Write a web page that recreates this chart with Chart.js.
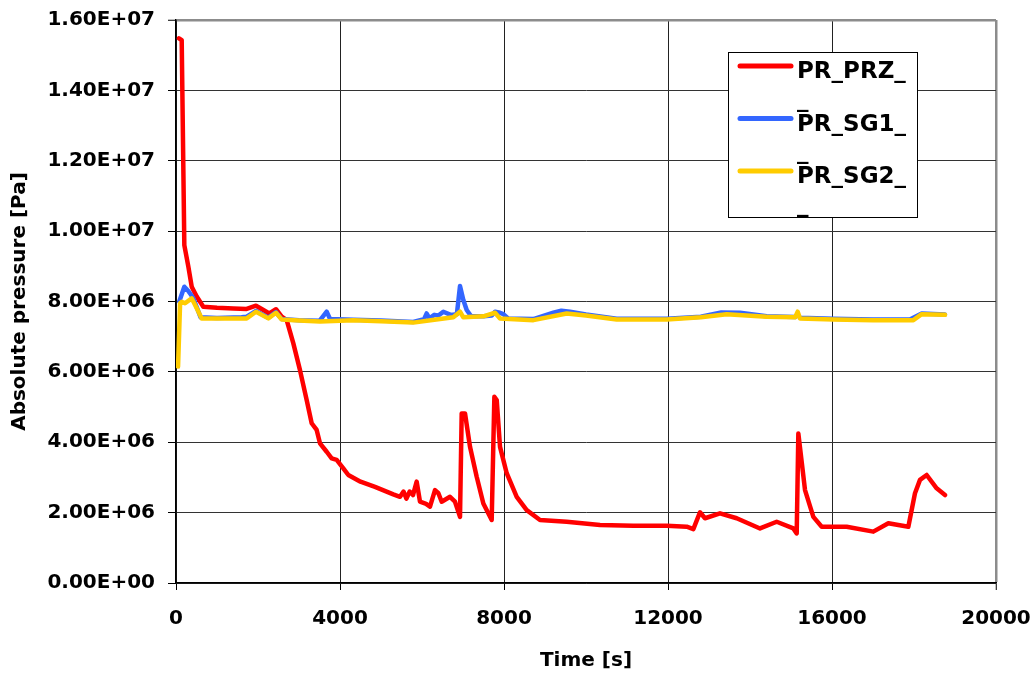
<!DOCTYPE html>
<html><head><meta charset="utf-8">
<script src="https://cdn.jsdelivr.net/npm/chart.js@4.4.1/dist/chart.umd.min.js"></script>
<style>html,body{margin:0;padding:0;background:#fff;overflow:hidden}</style>
</head><body>
<canvas id="c" width="1034" height="677"></canvas>
<script>
const seriesNames = ["PR_PRZ_", "PR_SG1_", "PR_SG2_"];
const xTickValues = [0, 4000, 8000, 12000, 16000, 20000];
const yTickValues = [0, 2e6, 4e6, 6e6, 8e6, 10e6, 12e6, 14e6, 16e6];
const yTickLabels = ["0.00E+00", "2.00E+06", "4.00E+06", "6.00E+06", "8.00E+06", "1.00E+07", "1.20E+07", "1.40E+07", "1.60E+07"];

const przTime = [73, 139, 203, 300, 383, 505, 666, 1000, 1400, 1724, 1951, 2100, 2276, 2439, 2578, 2700, 2862, 3024, 3187, 3309, 3431, 3512, 3675, 3797, 3919, 4081, 4203, 4500, 4854, 5300, 5464, 5550, 5620, 5700, 5780, 5870, 5951, 6100, 6195, 6317, 6400, 6480, 6683, 6805, 6927, 6968, 7049, 7171, 7334, 7496, 7700, 7765, 7822, 7903, 8066, 8310, 8554, 8878, 9529, 10342, 11154, 11967, 12456, 12618, 12780, 12902, 13268, 13675, 14244, 14651, 15057, 15139, 15179, 15342, 15545, 15749, 16358, 17008, 17374, 17862, 18024, 18146, 18309, 18553, 18756];
const przPa = [15.48e6, 15.43e6, 9.6e6, 9.0e6, 8.42e6, 8.14e6, 7.85e6, 7.82e6, 7.80e6, 7.79e6, 7.88e6, 7.78e6, 7.66e6, 7.78e6, 7.57e6, 7.47e6, 6.81e6, 6.05e6, 5.2e6, 4.54e6, 4.35e6, 3.97e6, 3.73e6, 3.54e6, 3.5e6, 3.26e6, 3.07e6, 2.88e6, 2.73e6, 2.52e6, 2.45e6, 2.6e6, 2.4e6, 2.6e6, 2.5e6, 2.88e6, 2.31e6, 2.25e6, 2.17e6, 2.64e6, 2.55e6, 2.31e6, 2.45e6, 2.31e6, 1.88e6, 4.82e6, 4.82e6, 3.87e6, 3.02e6, 2.26e6, 1.79e6, 5.29e6, 5.2e6, 3.87e6, 3.12e6, 2.45e6, 2.07e6, 1.79e6, 1.74e6, 1.65e6, 1.63e6, 1.63e6, 1.6e6, 1.53e6, 2.01e6, 1.84e6, 1.98e6, 1.84e6, 1.55e6, 1.74e6, 1.55e6, 1.41e6, 4.25e6, 2.64e6, 1.88e6, 1.6e6, 1.6e6, 1.46e6, 1.7e6, 1.6e6, 2.55e6, 2.93e6, 3.07e6, 2.69e6, 2.5e6];

const sg1Time = [80, 203, 300, 420, 600, 1000, 1600, 1724, 1951, 2252, 2439, 2578, 3000, 3500, 3600, 3675, 3760, 4325, 5000, 5789, 6050, 6114, 6180, 6300, 6400, 6520, 6700, 6850, 6927, 7008, 7090, 7200, 7500, 7700, 7781, 7900, 7984, 8100, 8716, 9204, 9400, 9610, 10000, 10749, 11967, 12800, 13300, 13756, 14406, 15100, 15163, 15220, 16033, 17000, 17900, 18187, 18756];
const sg1Pa = [8.0e6, 8.42e6, 8.3e6, 8.1e6, 7.55e6, 7.53e6, 7.55e6, 7.57e6, 7.73e6, 7.54e6, 7.70e6, 7.5e6, 7.47e6, 7.45e6, 7.6e6, 7.71e6, 7.5e6, 7.48e6, 7.46e6, 7.42e6, 7.5e6, 7.66e6, 7.52e6, 7.62e6, 7.6e6, 7.71e6, 7.62e6, 7.64e6, 8.44e6, 8.04e6, 7.76e6, 7.58e6, 7.58e6, 7.6e6, 7.71e6, 7.68e6, 7.64e6, 7.52e6, 7.5e6, 7.68e6, 7.74e6, 7.71e6, 7.63e6, 7.51e6, 7.51e6, 7.57e6, 7.69e6, 7.68e6, 7.58e6, 7.56e6, 7.62e6, 7.54e6, 7.51e6, 7.49e6, 7.49e6, 7.66e6, 7.63e6];

const sg2Time = [50, 100, 139, 220, 383, 505, 627, 1000, 1724, 1951, 2252, 2439, 2578, 3000, 3512, 4325, 5000, 5789, 6300, 6764, 6927, 7008, 7500, 7781, 7903, 8716, 9529, 10000, 10749, 11967, 12800, 13431, 14406, 15100, 15163, 15220, 16033, 17000, 17984, 18187, 18756];
const sg2Pa = [6.15e6, 7.95e6, 7.99e6, 7.95e6, 8.09e6, 7.81e6, 7.52e6, 7.52e6, 7.52e6, 7.71e6, 7.52e6, 7.68e6, 7.49e6, 7.46e6, 7.43e6, 7.47e6, 7.44e6, 7.40e6, 7.48e6, 7.55e6, 7.71e6, 7.55e6, 7.58e6, 7.68e6, 7.52e6, 7.47e6, 7.66e6, 7.6e6, 7.49e6, 7.49e6, 7.55e6, 7.64e6, 7.57e6, 7.55e6, 7.71e6, 7.52e6, 7.49e6, 7.47e6, 7.47e6, 7.64e6, 7.62e6];

const seriesColors = ["#ff0000", "#3366ff", "#ffcc00"];

function pts(tArr, pArr) { return tArr.map((t, i) => ({ x: t, y: pArr[i] })); }

const FONT = { family: "'DejaVu Sans'", size: 20, weight: 'bold' };

const legendPlugin = {
  id: 'boxLegend',
  afterDraw(chart) {
    const ctx = chart.ctx;
    ctx.save();
    const bx = 728.5, by = 52.5, bw = 189, bh = 165;
    ctx.fillStyle = '#fff';
    ctx.fillRect(bx, by, bw, bh);
    ctx.strokeStyle = '#000';
    ctx.lineWidth = 1;
    ctx.strokeRect(bx, by, bw, bh);
    ctx.font = "bold 23px 'DejaVu Sans'";
    ctx.textAlign = 'left';
    ctx.textBaseline = 'alphabetic';
    seriesNames.forEach((name, i) => {
      const ly = 66 + i * 52.5;
      ctx.strokeStyle = seriesColors[i];
      ctx.lineWidth = 5;
      ctx.lineCap = 'round';
      ctx.beginPath();
      ctx.moveTo(740, ly);
      ctx.lineTo(791, ly);
      ctx.stroke();
      ctx.fillStyle = '#000';
      ctx.fillText(name, 797, ly + 12);
      ctx.fillText('_', 797, ly + 40.5);
    });
    ctx.restore();
  }
};

const lastGray = '#8c8c8c';

new Chart(document.getElementById('c'), {
  type: 'line',
  data: {
    datasets: [
      { label: seriesNames[0], data: pts(przTime, przPa), borderColor: seriesColors[0], backgroundColor: seriesColors[0], borderWidth: 4.5, pointRadius: 0, order: 3, borderJoinStyle: 'round', borderCapStyle: 'round' },
      { label: seriesNames[1], data: pts(sg1Time, sg1Pa), borderColor: seriesColors[1], backgroundColor: seriesColors[1], borderWidth: 4.5, pointRadius: 0, order: 2, borderJoinStyle: 'round', borderCapStyle: 'round' },
      { label: seriesNames[2], data: pts(sg2Time, sg2Pa), borderColor: seriesColors[2], backgroundColor: seriesColors[2], borderWidth: 4.5, pointRadius: 0, order: 1, borderJoinStyle: 'round', borderCapStyle: 'round' }
    ]
  },
  options: {
    responsive: false,
    devicePixelRatio: 1,
    animation: false,
    layout: { padding: { left: 0, top: 20, right: 38, bottom: 0 } },
    plugins: { legend: { display: false }, tooltip: { enabled: false } },
    scales: {
      x: {
        type: 'linear', min: 0, max: 20000,
        afterBuildTicks: s => { s.ticks = xTickValues.map(v => ({ value: v })); },
        afterFit: s => { s.height = 94; s.paddingLeft = 0; s.paddingRight = 0; },
        ticks: { font: FONT, color: '#000', padding: 17, maxRotation: 0, callback: v => String(v) },
        grid: {
          color: c => (c.tick && c.tick.value === 20000) ? lastGray : '#222',
          lineWidth: c => (c.tick && c.tick.value === 20000) ? 2.5 : 1,
          tickColor: '#000', tickLength: 7, tickWidth: 1
        },
        border: { display: true, color: '#000', width: 1.5 },
        title: { display: true, text: 'Time [s]', font: FONT, color: '#000', padding: { top: 0, bottom: 4 } }
      },
      y: {
        type: 'linear', min: 0, max: 16e6,
        afterBuildTicks: s => { s.ticks = yTickValues.map(v => ({ value: v })); },
        afterFit: s => { s.width = 176; s.paddingTop = 0; s.paddingBottom = 0; },
        ticks: { font: FONT, color: '#000', padding: 13, callback: (v) => { const i = yTickValues.indexOf(v); return i >= 0 ? yTickLabels[i] : ''; } },
        grid: {
          color: c => (c.tick && c.tick.value === 16e6) ? lastGray : '#333',
          lineWidth: c => (c.tick && c.tick.value === 16e6) ? 2.5 : 1,
          tickColor: '#000', tickLength: 8, tickWidth: 1
        },
        border: { display: true, color: '#000', width: 1.5 },
        title: { display: true, text: 'Absolute pressure [Pa]', font: FONT, color: '#000', padding: { top: 8, bottom: 0 } }
      }
    }
  },
  plugins: [legendPlugin]
});
</script>
</body></html>
